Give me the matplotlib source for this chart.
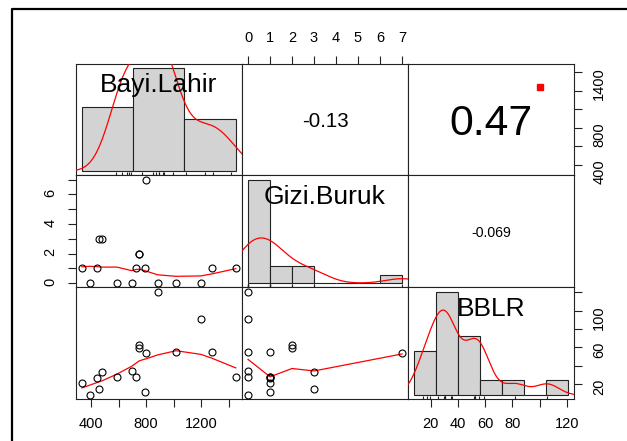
import numpy as np
import matplotlib
matplotlib.use('Agg')
import matplotlib.pyplot as plt
from matplotlib.lines import Line2D

plt.rcParams['font.family'] = ['Liberation Sans', 'DejaVu Sans']

names = ['Bayi.Lahir', 'Gizi.Buruk', 'BBLR']
bayi_lahir = [800, 460, 480, 751, 751, 332, 444, 727, 788, 1277, 1452, 388, 586, 695, 884, 1018, 1197]
gizi_buruk = [7, 3, 3, 2, 2, 1, 1, 1, 1, 1, 1, 0, 0, 0, 0, 0, 0]
bblr = [54, 14.5, 33, 63, 59, 21.5, 27, 28, 11.5, 55, 28, 8, 28, 34.5, 121, 55, 91.5]

# histogram breaks
breaks = [[0, 500, 1000, 1500],
          [0, 1, 2, 3, 4, 5, 6, 7],
          [0, 20, 40, 60, 80, 100, 120, 140]]

# correlation texts shown in the upper panels
cor_text = {(0, 1): '-0.13', (0, 2): '0.47', (1, 2): '-0.069'}
signif = [(0, 2)]

# axis ticks
bayi_ticks = [400, 600, 800, 1000, 1200, 1400]
bayi_bottom_labels = ['400', '', '800', '', '1200', '']
bayi_right_labels = ['400', '', '800', '', '', '1400']
gizi_ticks = [0, 1, 2, 3, 4, 5, 6, 7]
gizi_top_labels = ['0', '1', '2', '3', '4', '5', '6', '7']
gizi_left_labels = ['0', '', '2', '', '4', '', '6', '']
bblr_ticks = [20, 40, 60, 80, 100, 120]
bblr_bottom_labels = ['20', '40', '60', '80', '', '120']
bblr_right_labels = ['20', '', '60', '', '100', '']


def lowess(x, y, f=2/3, iters=3):
    order = np.argsort(x, kind='stable')
    x = np.asarray(x, float)[order]
    y = np.asarray(y, float)[order]
    n = len(x)
    ns = max(min(int(f*n + 1e-7), n), 2)
    rng = x[-1] - x[0]
    rw = np.ones(n)
    ys = np.zeros(n)
    for it in range(iters + 1):
        nleft, nright = 0, ns - 1
        for i in range(n):
            while nright < n - 1 and x[i] - x[nleft] > x[nright + 1] - x[i]:
                nleft += 1
                nright += 1
            h = max(x[i] - x[nleft], x[nright] - x[i])
            h9, h1 = 0.999*h, 0.001*h
            w = np.zeros(n)
            j = nleft
            while j < n:
                r = abs(x[j] - x[i])
                if r <= h9:
                    w[j] = 1.0 if r <= h1 else (1 - (r/h)**3)**3
                    w[j] *= rw[j]
                elif x[j] > x[i]:
                    break
                j += 1
            if w.sum() <= 0:
                ys[i] = y[i]
                continue
            w = w / w.sum()
            if h > 0:
                a = np.sum(w*x)
                b = x[i] - a
                c = np.sum(w*(x - a)**2)
                if np.sqrt(c) > 0.001*rng:
                    b = b / c
                    w = w*(b*(x - a) + 1)
            ys[i] = np.sum(w*y)
        if it == iters:
            break
        res = np.abs(y - ys)
        cmad = 6*np.median(res)
        if cmad < 1e-7*np.mean(res):
            break
        rw = np.where(res <= 0.001*cmad, 1.0,
                      np.where(res <= 0.999*cmad, (1 - (res/cmad)**2)**2, 0.0))
    return x, ys


def density(v):
    v = np.asarray(v, float)
    n = len(v)
    q75, q25 = np.percentile(v, [75, 25])
    lo = min(np.std(v, ddof=1), (q75 - q25)/1.34)
    bw = 0.9*lo*n**-0.2
    gx = np.linspace(v.min() - 3*bw, v.max() + 3*bw, 512)
    gy = np.exp(-0.5*((gx[:, None] - v[None, :])/bw)**2).sum(axis=1)/(n*bw*np.sqrt(2*np.pi))
    return gx, gy


def lims(v):
    lo, hi = min(v), max(v)
    d = hi - lo
    return lo - 0.04*d, hi + 0.04*d


data = [bayi_lahir, gizi_buruk, bblr]

fig, axes = plt.subplots(3, 3, figsize=(6.27, 4.41), dpi=100)
fig.subplots_adjust(left=75.7/627, right=574.3/627, top=1-63.5/441, bottom=1-399.3/441,
                    wspace=0, hspace=0)
renderer = fig.canvas.get_renderer()

for i in range(3):
    for j in range(3):
        ax = axes[i, j]
        ax.set_xlim(lims(data[j]))
        ax.set_ylim(lims(data[i]))
        ax.set_xticks([])
        ax.set_yticks([])
        for s in ax.spines.values():
            s.set_linewidth(0.8)
            s.set_color('#222222')
        if i > j:
            ax.plot(data[j], data[i], 'o', mfc='none', mec='black', ms=5, mew=0.8, zorder=3)
            lx, ly = lowess(data[j], data[i])
            ax.plot(lx, ly, color='red', lw=0.9)
        elif i < j:
            txt = cor_text[(i, j)]
            r = abs(float(txt))
            t = ax.text(0.5, 0.5, txt, transform=ax.transAxes, ha='center',
                        va='center_baseline', fontsize=10)
            wpx = t.get_window_extent(renderer).width
            panel_w = ax.get_window_extent(renderer).width
            target = 1.055*0.8*panel_w*(r + 0.3)/1.3
            t.set_fontsize(10*target/wpx)
            if (i, j) in signif:
                ax.plot([0.795], [0.79], 's', color='red', ms=5, transform=ax.transAxes)

# diagonal histograms on their own coordinates
for k in range(3):
    ax = axes[k, k]
    hax = fig.add_axes(ax.get_position(), frameon=False)
    v = np.asarray(data[k], float)
    b = np.asarray(breaks[k], float)
    idx = np.clip(np.searchsorted(b, v, side='left') - 1, 0, len(b) - 2)
    counts = np.bincount(idx, minlength=len(b) - 1)
    widths = np.diff(b)
    dens = counts/(len(v)*widths)
    hax.bar(b[:-1], dens, width=widths, align='edge', color='#d3d3d3',
            edgecolor='#222222', linewidth=0.8)
    gx, gy = density(v)
    hax.plot(gx, gy, color='red', lw=0.9)
    span = b[-1] - b[0]
    hax.set_xlim(b[0] - 0.04*span, b[-1] + 0.04*span)
    hax.set_ylim(-0.04*dens.max(), 1.04*dens.max())
    hax.vlines(v, 0, 0.03, transform=hax.get_xaxis_transform(), color='#222222', lw=0.8)
    hax.set_xticks([])
    hax.set_yticks([])
    hax.text(0.5, 0.8333, names[k], transform=hax.transAxes, ha='center',
             va='center_baseline', fontsize=19)

tick_kw = dict(direction='out', length=6, width=0.8, pad=7, labelsize=10.5, color='#222222')

ax = axes[0, 1]
ax.xaxis.tick_top()
ax.set_xticks(gizi_ticks, gizi_top_labels)
ax.tick_params(axis='x', **tick_kw)

ax = axes[0, 2]
ax.yaxis.tick_right()
ax.set_yticks(bayi_ticks, bayi_right_labels)
ax.tick_params(axis='y', labelrotation=90, **tick_kw)

ax = axes[1, 0]
ax.set_yticks(gizi_ticks, gizi_left_labels)
ax.tick_params(axis='y', labelrotation=90, **tick_kw)

ax = axes[2, 0]
ax.set_xticks(bayi_ticks, bayi_bottom_labels)
ax.tick_params(axis='x', **tick_kw)

ax = axes[2, 2]
ax.set_xticks(bblr_ticks, bblr_bottom_labels)
ax.tick_params(axis='x', **tick_kw)
ax.yaxis.tick_right()
ax.set_yticks(bblr_ticks, bblr_right_labels)
ax.tick_params(axis='y', labelrotation=90, **tick_kw)

# outer frame of the device
fig.add_artist(Line2D([12/627, 12/627, 1.0], [0.0, 1 - 9/441, 1 - 9/441],
                      color='black', lw=1.6))

fig.savefig('out.png', dpi=100)
